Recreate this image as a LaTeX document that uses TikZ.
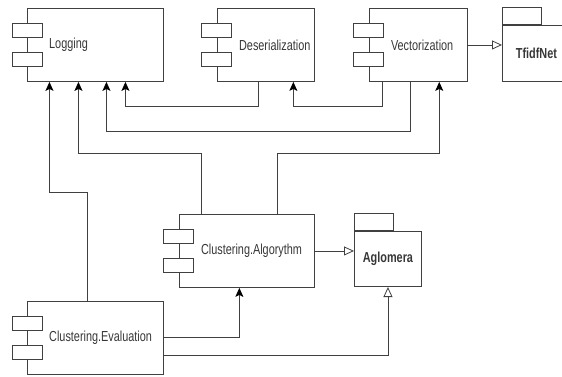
\documentclass[tikz,border=0pt]{standalone}
\usepackage{fontspec}
\setmainfont{Liberation Sans}[FakeStretch=0.75]
\usetikzlibrary{arrows.meta,positioning}

\definecolor{lineC}{RGB}{64,64,64}
\definecolor{textC}{RGB}{55,55,55}

\begin{document}
\begin{tikzpicture}[x=1pt, y=-1pt,
    font=\fontsize{14.5}{16}\selectfont,
    comp/.style={rectangle, draw=lineC, line width=0.9pt, minimum height=73pt, inner sep=0pt},
    plug/.style={rectangle, draw=lineC, line width=0.9pt, fill=white, minimum width=30pt, minimum height=14pt, inner sep=0pt},
    txt/.style={text=textC, inner sep=0pt, anchor=west},
    pkg/.style={rectangle, draw=lineC, line width=0.9pt, text=textC, font=\fontsize{14.5}{16}\selectfont\bfseries, minimum width=68pt, minimum height=56pt, inner sep=0pt},
    tab/.style={rectangle, draw=lineC, line width=0.9pt, minimum width=39pt, minimum height=17pt, inner sep=0pt, anchor=south west},
    dep/.style={draw=lineC, line width=0.8pt, -{Stealth[length=9pt,width=8pt,inset=2pt,black]}},
    gen/.style={draw=lineC, line width=0.8pt, -{Triangle[open,length=10pt,width=9pt,fill=white]}}
]
\clip (0,0) rectangle (562,376);

% Components
\node[comp, minimum width=136pt, anchor=north west] (logging) at (27,8) {};
\node[comp, minimum width=97pt, right=53pt of logging] (deser) {};
\node[comp, minimum width=98pt, right=54pt of deser] (vector) {};
\node[comp, minimum width=136pt, below=219pt of logging] (eval) {};
\node[comp, minimum width=135pt, above right=13pt and 15pt of eval] (algo) {};

\node[txt, right=22pt of logging.west] (logging-txt) {Logging};
\node[txt, right=22pt of deser.west] (deser-txt) {Deserialization};
\node[txt, right=22pt of vector.west] (vector-txt) {Vectorization};
\node[txt, right=22pt of algo.west] (algo-txt) {Clustering.Algorythm};
\node[txt, right=22pt of eval.west] (eval-txt) {Clustering.Evaluation};

\foreach \c in {logging,deser,vector,algo,eval} {
    \node[plug] (\c-p1) at ([yshift=14.5pt]\c.west) {};
    \node[plug] (\c-p2) at ([yshift=-14.5pt]\c.west) {};
}

% Packages
\node[pkg, anchor=north west] (tfidf) at (502,25) {TfidfNet};
\node[tab] (tfidf-tab) at (tfidf.north west) {};
\node[pkg, minimum width=67pt, minimum height=55pt, anchor=south west] (aglomera) at (354,287) {Aglomera};
\node[tab] (aglomera-tab) at (aglomera.north west) {};

% Dependencies
\draw[dep] ([xshift=-7.5pt]deser.south) -- ++(0,24) -| ([xshift=30pt]logging.south);
\draw[dep] ([xshift=-36pt]vector.south) -- ++(0,24) -| ([xshift=27.5pt]deser.south);
\draw[dep] ([xshift=-8pt]vector.south) -- ++(0,49) -| ([xshift=11pt]logging.south);
\draw[dep] ([xshift=-45.5pt]algo.north) -- ++(0,-61) -| ([xshift=-17pt]logging.south);
\draw[dep] ([xshift=30.5pt]algo.north) -- ++(0,-61) -| ([xshift=21pt]vector.south);
\draw[dep] ([xshift=-8pt]eval.north) -- ++(0,-109) -| ([xshift=-46pt]logging.south);
\draw[dep] (eval.east) -| ([xshift=-7.5pt]algo.south);

% Realizations
\draw[gen] ([yshift=-17.5pt]eval.east) -| (aglomera.south);
\draw[gen] (algo.east) -- (algo.east -| aglomera.west);
\draw[gen] (vector.east) -- (vector.east -| tfidf.west);

\end{tikzpicture}
\end{document}
